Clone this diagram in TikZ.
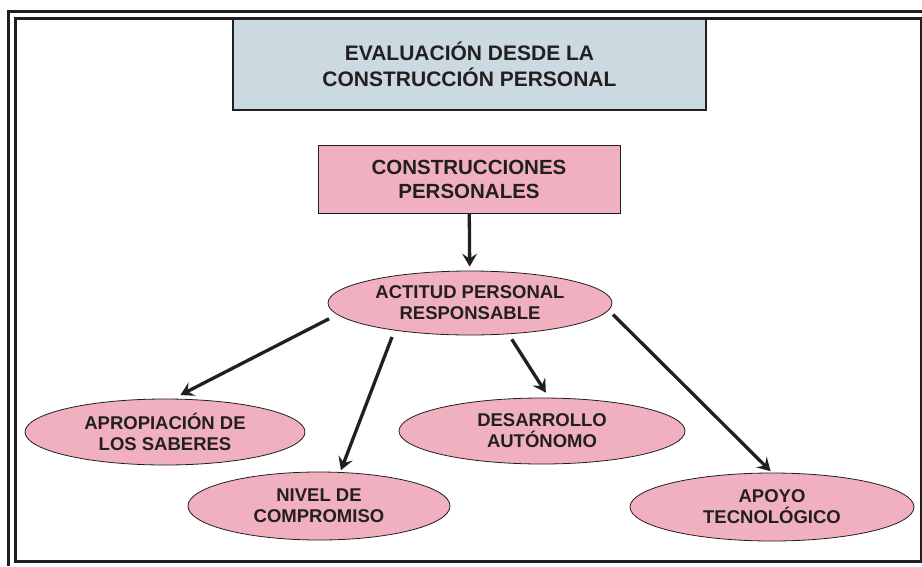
\documentclass[tikz,border=0pt]{standalone}
\usepackage{fontspec}
\setmainfont{Liberation Sans}
\usetikzlibrary{shapes.geometric,positioning,arrows.meta}
\definecolor{evblue}{RGB}{203,217,224}
\definecolor{evpink}{RGB}{240,176,192}
\definecolor{evline}{RGB}{35,31,32}

\begin{document}
\begin{tikzpicture}[x=1pt, y=-1pt,
    ev title/.style={rectangle, draw=evline, line width=2.5pt, fill=evblue, minimum width=473pt, minimum height=91pt, align=center, text=evline, font=\bfseries\fontsize{21}{26}\selectfont},
    ev block/.style={rectangle, draw=evline, line width=1pt, fill=evpink, minimum width=302pt, minimum height=68pt, align=center, text=evline, font=\bfseries\fontsize{20.5}{24}\selectfont},
    ev oval/.style={ellipse, draw=evline, line width=0.8pt, fill=evpink, inner sep=0pt, align=center, text=evline, font=\bfseries\fontsize{18.5}{21}\selectfont},
    ev arrow/.style={-{Stealth[length=13pt, width=15pt, inset=5pt]}, line width=3.3pt, evline}]

    \useasboundingbox (0,0) rectangle (922,566);

    % double frame
    \draw [line width=2.5pt, evline] (8.5,566) -- (8.5,11.3) -- (922,11.3);
    \draw [line width=2.8pt, evline] (15.5,18.5) rectangle (921,561.5);

    \node [ev title] (title) at (469.5,64.5) {EVALUACIÓN DESDE LA\\CONSTRUCCIÓN PERSONAL};
    \node [ev block] (cons) at (469,179) {CONSTRUCCIONES\\PERSONALES};

    \node [ev oval, minimum width=284pt, minimum height=64pt] (act) at (470,303) {ACTITUD PERSONAL\\RESPONSABLE};
    \node [ev oval, minimum width=280pt, minimum height=66pt] (apro) at (165,432) {APROPIACIÓN DE\\LOS SABERES};
    \node [ev oval, minimum width=262pt, minimum height=68pt] (niv) at (319,506) {NIVEL DE\\COMPROMISO};
    \node [ev oval, minimum width=286pt, minimum height=66pt] (des) at (542,431) {DESARROLLO\\AUTÓNOMO};
    \node [ev oval, minimum width=284pt, minimum height=68pt] (apo) at (772,507) {APOYO\\TECNOLÓGICO};

    \draw [ev arrow, shorten >=4pt] (cons) -- (act);
    \draw [ev arrow, shorten <=9pt, shorten >=8pt] (act.185) -- (apro.76);
    \draw [ev arrow, shorten <=7pt, shorten >=2pt] (act.200) -- (niv.58);
    \draw [ev arrow, shorten <=6pt, shorten >=6pt] (act.321) -- (des.78);
    \draw [ev arrow, shorten <=6pt, shorten >=2pt] (act.357) -- (apo.90);

\end{tikzpicture}
\end{document}
